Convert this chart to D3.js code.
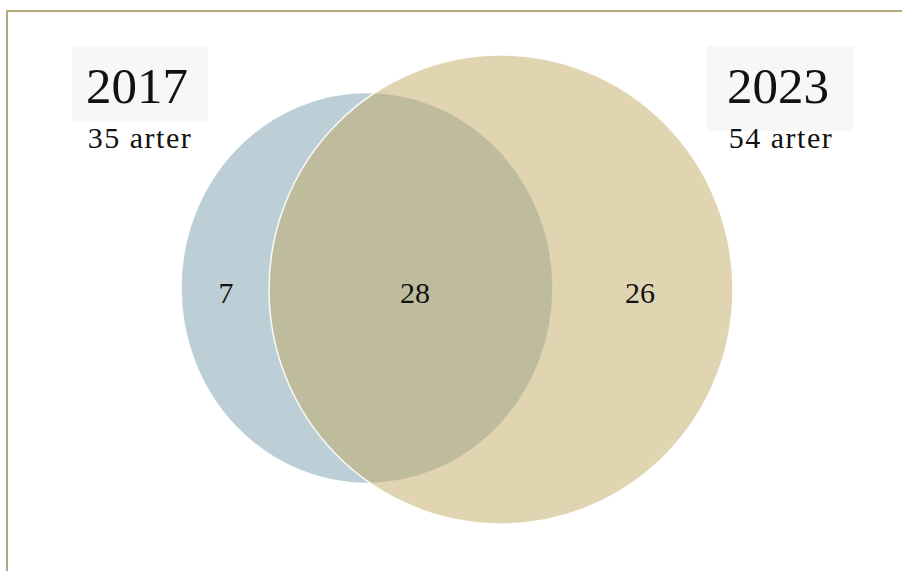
<!DOCTYPE html>
<meta charset="utf-8">
<script src="https://d3js.org/d3.v7.min.js"></script>
<style>
  body { margin: 0; background: #fff; }
  text { font-family: "Liberation Serif", serif; fill: #111; }
</style>
<svg id="venn" width="902" height="571"></svg>
<script>
    // data
    var years = ["2017", "2023"];
    var totals = [35, 54];
    var regionLabels = ["7", "28", "26"];   // only 2017, both, only 2023

    var svg = d3.select("#venn");

    // frame
    svg.append("rect")
        .attr("x", 7).attr("y", 11)
        .attr("width", 920).attr("height", 600)
        .attr("fill", "none")
        .attr("stroke", "#b3a878")
        .attr("stroke-width", 2);

    // set sizes -> shape radii (the original is drawn slightly squashed)
    var rx = d3.scaleLinear().domain([35, 54]).range([186, 232]);
    var ry = d3.scaleLinear().domain([35, 54]).range([195.5, 234.5]);
    var cx = d3.scaleOrdinal().domain(years).range([367, 501]);
    var cy = d3.scaleOrdinal().domain(years).range([288, 289.5]);
    var fill = d3.scaleOrdinal().domain(years).range(["#799fad", "#c2aa64"]);

    svg.append("g")
      .selectAll("ellipse")
      .data(years)
      .enter()
      .append("ellipse")
        .attr("cx", function(d){ return cx(d) })
        .attr("cy", function(d){ return cy(d) })
        .attr("rx", function(d, i){ return rx(totals[i]) })
        .attr("ry", function(d, i){ return ry(totals[i]) })
        .attr("fill", function(d){ return fill(d) })
        .attr("fill-opacity", 0.5)
        .attr("stroke", "#fff")
        .attr("stroke-width", 1.5)
        .attr("stroke-opacity", 0.9);

    // region counts
    var regionPos = [226, 415, 640];
    svg.append("g")
      .selectAll("text")
      .data(regionLabels)
      .enter()
      .append("text")
        .attr("x", function(d, i){ return regionPos[i] })
        .attr("y", 303)
        .attr("text-anchor", "middle")
        .style("font-size", "30px")
        .text(function(d){ return d });

    // year labels
    var boxes = [{x: 72, w: 136, h: 76}, {x: 707, w: 147, h: 85}];
    var labelX = [137, 778];
    var g = svg.append("g")
      .selectAll("g")
      .data(years)
      .enter()
      .append("g");

    g.append("rect")
        .attr("x", function(d, i){ return boxes[i].x })
        .attr("y", 46)
        .attr("width", function(d, i){ return boxes[i].w })
        .attr("height", function(d, i){ return boxes[i].h })
        .attr("fill", "#f7f7f5");

    g.append("text")
        .attr("x", function(d, i){ return labelX[i] })
        .attr("y", 103)
        .attr("text-anchor", "middle")
        .style("font-size", "51px")
        .text(function(d){ return d });

    g.append("text")
        .attr("x", function(d, i){ return labelX[i] + 3 })
        .attr("y", 148)
        .attr("text-anchor", "middle")
        .style("font-size", "30px")
        .style("letter-spacing", "1.5px")
        .text(function(d, i){ return totals[i] + " arter" });
</script>
